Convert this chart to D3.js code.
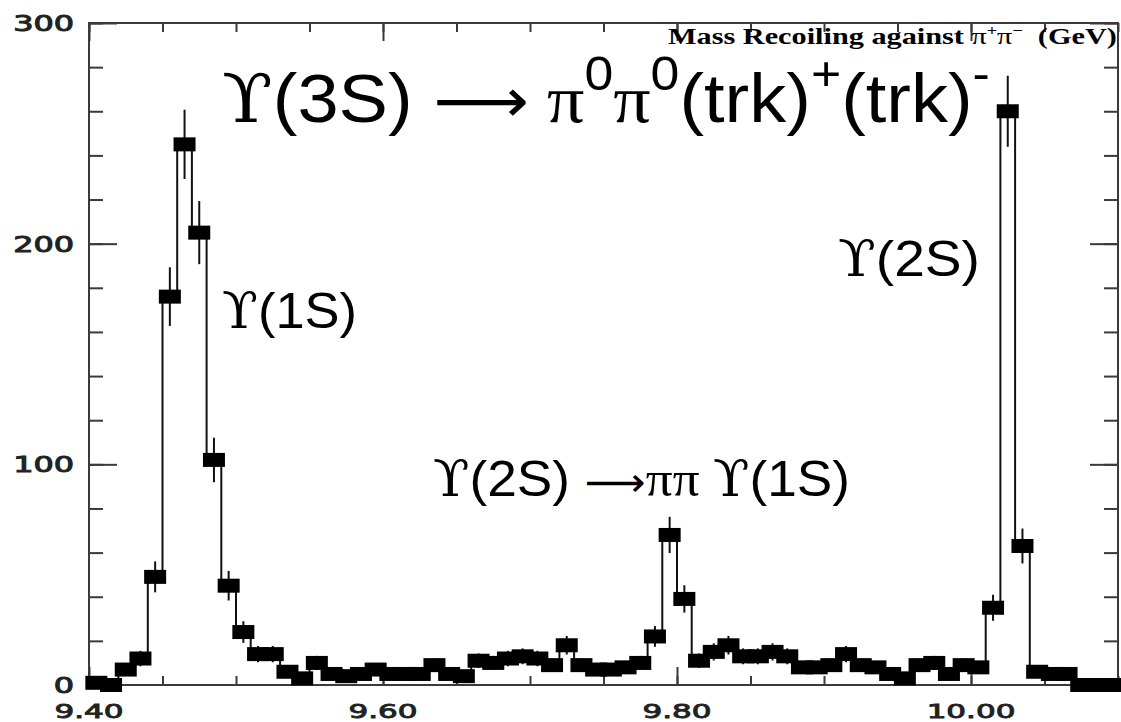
<!DOCTYPE html>
<html>
<head>
<meta charset="utf-8">
<script src="https://cdn.jsdelivr.net/npm/d3@7"></script>
<style>
  html, body { margin: 0; padding: 0; background: #fff; }
  svg { display: block; }
</style>
</head>
<body>
<svg id="chart" width="1121" height="722"></svg>
<script>
// Mass recoiling against pi+ pi-, 10 MeV bins from 9.40 to 10.10 GeV
const massRange = [9.40, 10.10];
const binWidth = 0.01;

// Events per bin
const counts = [
  1, 0, 7, 12, 49, 176, 245, 205, 102, 45,
  24, 14, 14, 6, 3, 10, 5, 4, 5, 7,
  5, 5, 5, 9, 5, 4, 11, 10, 12, 13,
  12, 9, 18, 9, 7, 7, 8, 10, 22, 68,
  39, 11, 15, 18, 13, 13, 15, 13, 8, 8,
  9, 14, 9, 8, 5, 3, 9, 10, 5, 9,
  8, 35, 260, 63, 6, 5, 5, 0, 0, 0
];

// Statistical uncertainty per bin
const countErrors = [
  1.0, 0, 2.6, 3.5, 7.0, 13.3, 15.7, 14.3, 10.1, 6.7,
  4.9, 3.7, 3.7, 2.4, 1.7, 3.2, 2.2, 2.0, 2.2, 2.6,
  2.2, 2.2, 2.2, 3.0, 2.2, 2.0, 3.3, 3.2, 3.5, 3.6,
  3.5, 3.0, 4.2, 3.0, 2.6, 2.6, 2.8, 3.2, 4.7, 8.2,
  6.2, 3.3, 3.9, 4.2, 3.6, 3.6, 3.9, 3.6, 2.8, 2.8,
  3.0, 3.7, 3.0, 2.8, 2.2, 1.7, 3.0, 3.2, 2.2, 3.0,
  2.8, 5.9, 16.1, 7.9, 2.4, 2.2, 2.2, 0, 0, 0
];

const yRange = [0, 300];
const yMajorTicks = [0, 100, 200, 300];
const yTickLabels = ["0", "100", "200", "300"];
const yMinorStep = 20;
const xMajorTicks = [9.40, 9.60, 9.80, 10.00];
const xTickLabels = ["9.40", "9.60", "9.80", "10.00"];
const xMinorStep = 0.05;

const frame = { left: 89, right: 1118, top: 23, bottom: 685 };
const ink = "#111";
const frameInk = "#3a3a3a";

const svg = d3.select("#chart");

const x = d3.scaleLinear().domain(massRange).range([frame.left, frame.right]);
const y = d3.scaleLinear().domain(yRange).range([frame.bottom, frame.top]);

const bins = counts.map((n, i) => ({
  lo: massRange[0] + i * binWidth,
  hi: massRange[0] + (i + 1) * binWidth,
  n: n,
  err: countErrors[i]
}));

// ---- ticks (all pointing into the frame) ----
const nMinorX = Math.round((massRange[1] - massRange[0]) / xMinorStep);
const xMinor = d3.range(0, nMinorX + 1).map(k => +(massRange[0] + k * xMinorStep).toFixed(2));
const nMinorY = Math.round((yRange[1] - yRange[0]) / yMinorStep);
const yMinor = d3.range(0, nMinorY + 1).map(k => yRange[0] + k * yMinorStep);

function tickAxis(axis, values, len, transform) {
  const g = svg.append("g")
    .attr("transform", transform)
    .call(axis.tickValues(values).tickSize(-len).tickSizeOuter(0).tickFormat(""));
  g.select(".domain").remove();
  g.selectAll(".tick line").attr("stroke", frameInk).attr("stroke-width", 2);
  g.selectAll(".tick text").remove();
  return g;
}

tickAxis(d3.axisBottom(x), xMinor, 9, `translate(0,${frame.bottom})`);
tickAxis(d3.axisBottom(x), xMajorTicks, 18, `translate(0,${frame.bottom})`);
tickAxis(d3.axisTop(x), xMinor, 9, `translate(0,${frame.top})`);
tickAxis(d3.axisTop(x), xMajorTicks, 18, `translate(0,${frame.top})`);
tickAxis(d3.axisLeft(y), yMinor, 14, `translate(${frame.left},0)`);
tickAxis(d3.axisLeft(y), yMajorTicks, 28, `translate(${frame.left},0)`);
tickAxis(d3.axisRight(y), yMinor, 14, `translate(${frame.right},0)`);
tickAxis(d3.axisRight(y), yMajorTicks, 28, `translate(${frame.right},0)`);

// frame
svg.append("rect")
  .attr("x", frame.left).attr("y", frame.top)
  .attr("width", frame.right - frame.left)
  .attr("height", frame.bottom - frame.top)
  .attr("fill", "none").attr("stroke", frameInk).attr("stroke-width", 2);

// ---- tick labels (wide plotter-style digits) ----
const labelFont = "'DejaVu Sans', 'Liberation Sans', sans-serif";
const xLabelScale = 1.55;
svg.append("g").selectAll("text")
  .data(xMajorTicks)
  .join("text")
  .attr("transform", d => `translate(${x(d)},718) scale(${xLabelScale},1)`)
  .attr("text-anchor", "middle")
  .attr("font-family", labelFont)
  .attr("font-size", 20)
  .attr("fill", "#222")
  .attr("stroke", "#222")
  .attr("stroke-width", 0.9)
  .text((d, i) => xTickLabels[i]);

const yLabelScale = 1.45;
svg.append("g").selectAll("text")
  .data(yMajorTicks)
  .join("text")
  .attr("transform", d => `translate(74,${y(d)}) scale(${yLabelScale},1)`)
  .attr("text-anchor", "end")
  .attr("dy", "0.36em")
  .attr("font-family", labelFont)
  .attr("font-size", 22)
  .attr("fill", "#222")
  .attr("stroke", "#222")
  .attr("stroke-width", 1)
  .text((d, i) => yTickLabels[i]);

// ---- histogram ----
const stepPoints = [];
bins.forEach(b => { stepPoints.push([b.lo, b.n], [b.hi, b.n]); });
svg.append("path")
  .datum(stepPoints)
  .attr("fill", "none")
  .attr("stroke", ink)
  .attr("stroke-width", 2)
  .attr("d", d3.line().x(d => x(d[0])).y(d => y(d[1])));

const markW = 22, markH = 14;
const pts = svg.append("g");
pts.selectAll("line")
  .data(bins.filter(b => b.err > 0))
  .join("line")
  .attr("x1", b => x((b.lo + b.hi) / 2))
  .attr("x2", b => x((b.lo + b.hi) / 2))
  .attr("y1", b => y(b.n - b.err))
  .attr("y2", b => y(b.n + b.err))
  .attr("stroke", ink)
  .attr("stroke-width", 2);
pts.selectAll("rect")
  .data(bins)
  .join("rect")
  .attr("x", b => x((b.lo + b.hi) / 2) - markW / 2)
  .attr("y", b => y(b.n) - markH / 2)
  .attr("width", markW)
  .attr("height", markH)
  .attr("fill", "#000");

// ---- annotation text ----
const SANS = "'Liberation Sans', Arial, sans-serif";
const SERIF = "'DejaVu Serif', 'Liberation Serif', serif";
const TIMES = "'Liberation Serif', 'Times New Roman', serif";
const ARROW = "'DejaVu Sans', sans-serif";

// parts: {t, font, sup}, drawn left-to-right then stretched to span [x0, x1]
function richText(parts, x0, x1, baseline, size, opts = {}) {
  const t = svg.append("text")
    .attr("x", 0).attr("y", baseline)
    .attr("font-size", size)
    .attr("fill", "#000")
    .attr("font-weight", opts.weight || "normal")
    .style("white-space", "pre");
  let shifted = 0;
  parts.forEach(p => {
    const s = t.append("tspan")
      .attr("font-family", p.font || SANS)
      .text(p.t);
    if (p.weight) s.attr("font-weight", p.weight);
    const target = p.sup ? -p.sup * size : 0;
    if (target !== shifted) { s.attr("dy", target - shifted); shifted = target; }
    if (p.size) s.attr("font-size", p.size * size);
  });
  const bb = t.node().getBBox();
  const sc = (x1 - x0) / bb.width;
  t.attr("transform", `translate(${x0 - bb.x * sc},0) scale(${sc},1)`);
  return t;
}

richText([
  { t: "Mass Recoiling against ", font: TIMES },
  { t: "\u03c0", font: TIMES, weight: "normal" },
  { t: "+", font: TIMES, sup: 0.38, size: 0.6 },
  { t: "\u03c0", font: TIMES, weight: "normal" },
  { t: "\u2212", font: TIMES, sup: 0.38, size: 0.6 },
  { t: "  (GeV)", font: TIMES }
], 668, 1117, 44, 23, { weight: "bold" });

richText([
  { t: "\u03d2", font: SERIF },
  { t: "(3S) ", font: SANS },
  { t: "\u27f6", font: ARROW, size: 0.9 },
  { t: " \u03c0", font: TIMES },
  { t: "0", font: SANS, sup: 0.47, size: 0.7 },
  { t: "\u03c0", font: TIMES },
  { t: "0", font: SANS, sup: 0.47, size: 0.7 },
  { t: "(trk)", font: SANS },
  { t: "+", font: SANS, sup: 0.47, size: 0.7 },
  { t: "(trk)", font: SANS },
  { t: "-", font: SANS, sup: 0.47, size: 0.7 }
], 222, 990, 122, 68);

richText([
  { t: "\u03d2", font: SERIF },
  { t: "(1S)", font: SANS }
], 222, 357, 328, 50);

richText([
  { t: "\u03d2", font: SERIF },
  { t: "(2S)", font: SANS }
], 838, 980, 276, 50);

richText([
  { t: "\u03d2", font: SERIF },
  { t: "(2S) ", font: SANS },
  { t: "\u27f6", font: ARROW, size: 0.8 },
  { t: "\u03c0\u03c0 ", font: TIMES },
  { t: "\u03d2", font: SERIF },
  { t: "(1S)", font: SANS }
], 433, 850, 496, 50);
</script>
</body>
</html>
